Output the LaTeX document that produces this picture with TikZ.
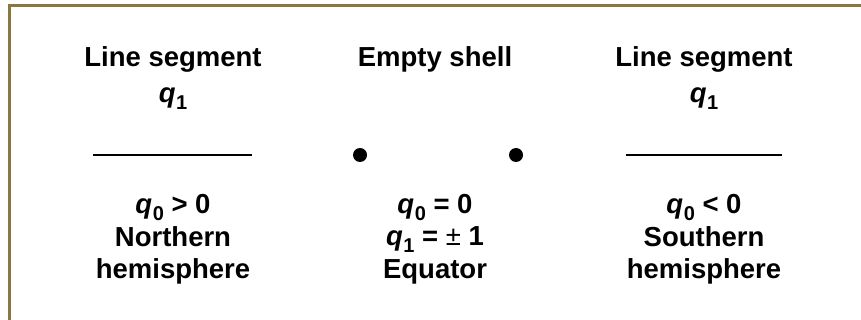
\documentclass[tikz,border=0pt]{standalone}
\usepackage{fontspec}
\setmainfont{Liberation Sans}
\usetikzlibrary{positioning}
\definecolor{frame}{HTML}{8C7743}
\newcommand{\qsub}[2]{\textit{#1}\kern0.5pt\raisebox{-6.5pt}{\fontsize{20}{20}\selectfont #2}}

\begin{document}
\begin{tikzpicture}[x=1pt, y=-1pt,
  lbl/.style={font=\fontsize{27.5}{32}\selectfont\bfseries, anchor=base, inner sep=0pt},
  segline/.style={line width=2.8pt},
  shelldot/.style={circle, fill=black, minimum size=14pt, inner sep=0pt},
]
\useasboundingbox (0,0) rectangle (861,320);

% Frame
\draw[frame, line width=3pt] (9.5,320) -- (9.5,5.5) -- (861,5.5);

% === Left: northern hemisphere ===
\node[lbl] (nname) at (173,67) {Line segment};
\node[lbl] (nq) at (173,103) {\qsub{q}{1}};
\coordinate (nstart) at (93,155);
\coordinate (nend) at (252,155);
\draw[segline] (nstart) -- (nend);
\node[lbl] (ncond) at (173,214) {\qsub{q}{0} > 0};
\node[lbl] (nhalf) at (173,247) {Northern};
\node[lbl] (nhemi) at (173,278) {hemisphere};

% === Middle: equator ===
\node[lbl] (ename) at (435,67) {Empty shell};
\node[shelldot] (edotl) at (360,155) {};
\node[shelldot] (edotr) at (516,155) {};
\node[lbl] (econd) at (435,214) {\qsub{q}{0} = 0};
\node[lbl] (eq) at (435,246) {\qsub{q}{1} = \textmd{±} 1};
\node[lbl] (eword) at (435,278) {Equator};

% === Right: southern hemisphere ===
\node[lbl] (sname) at (704,67) {Line segment};
\node[lbl] (sq) at (704,103) {\qsub{q}{1}};
\coordinate (sstart) at (626,155);
\coordinate (send) at (782,155);
\draw[segline] (sstart) -- (send);
\node[lbl] (scond) at (704,214) {\qsub{q}{0} < 0};
\node[lbl] (shalf) at (704,247) {Southern};
\node[lbl] (shemi) at (704,278) {hemisphere};

\end{tikzpicture}
\end{document}
